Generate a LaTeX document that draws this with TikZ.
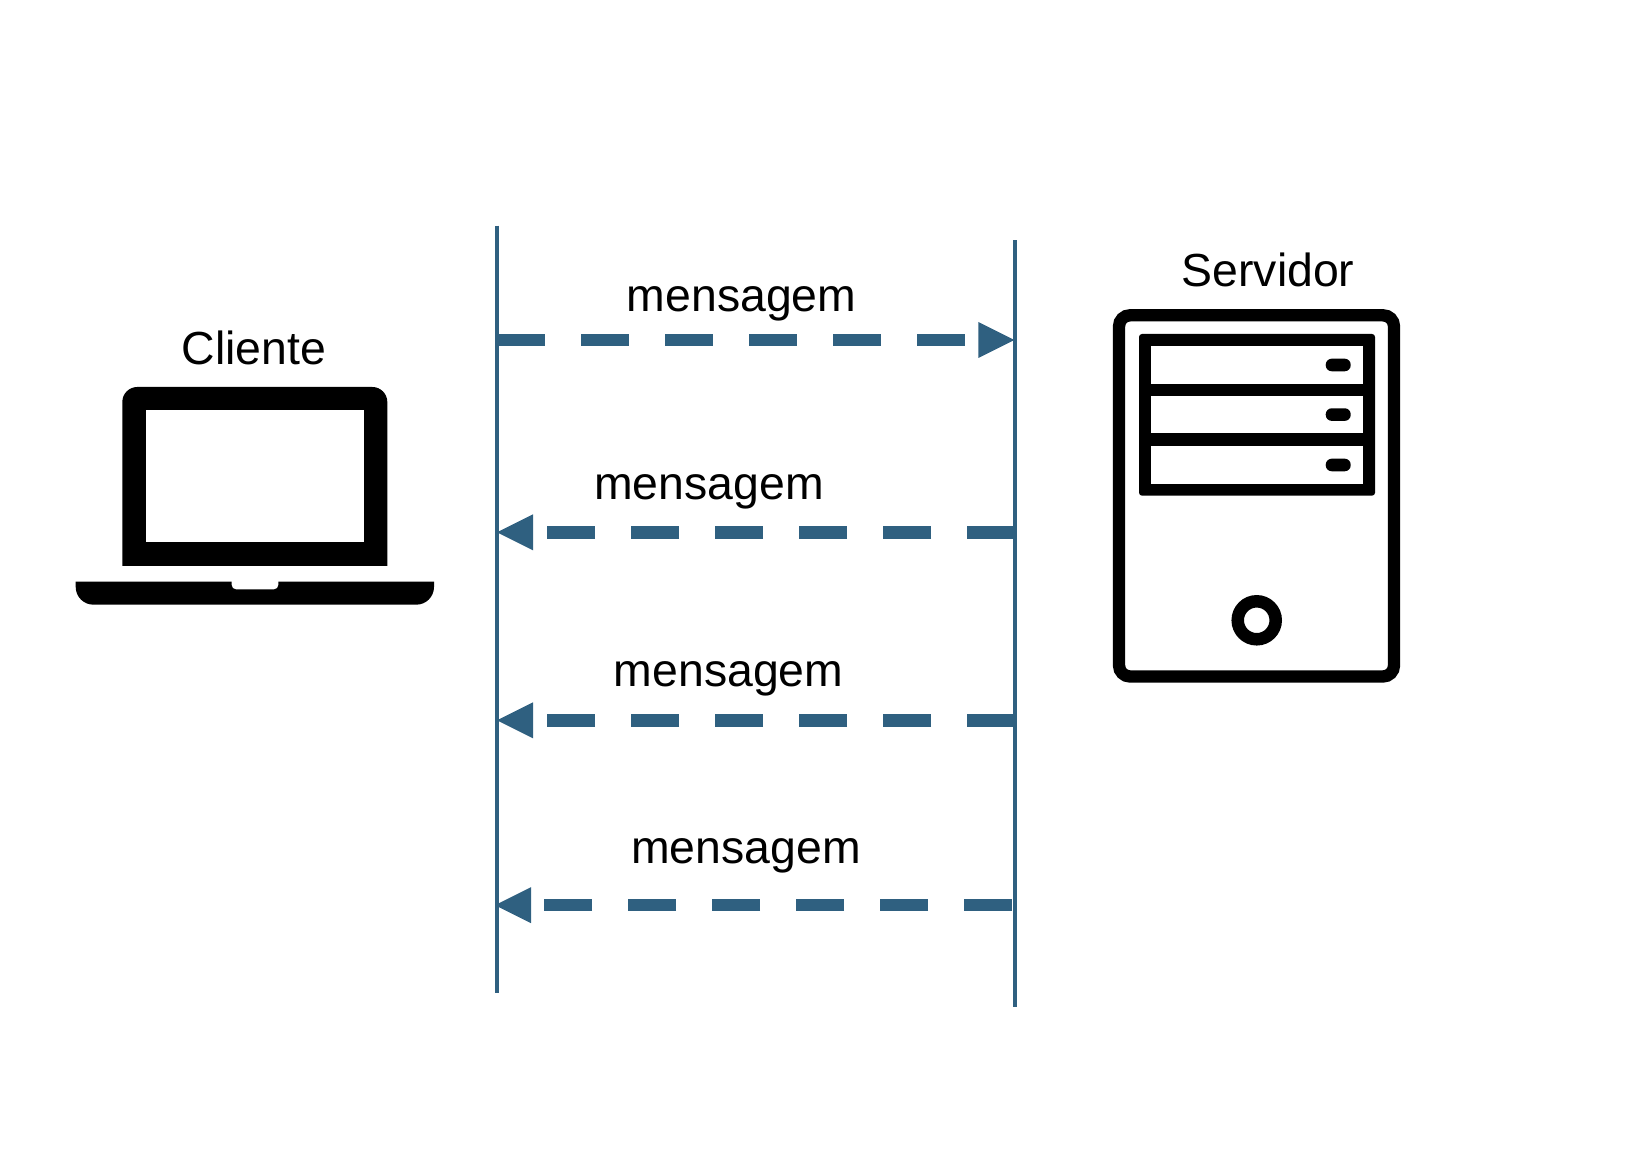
\documentclass[tikz,border=0pt]{standalone}
\usepackage{fontspec}
\setmainfont{Liberation Sans}
\usetikzlibrary{arrows.meta, positioning, calc}
\definecolor{linecolor}{RGB}{47,96,128}

\begin{document}
\begin{tikzpicture}[
    label/.style={anchor=base, inner sep=0pt, font=\fontsize{13.2}{16}\selectfont},
    lifeline/.style={draw=linecolor, line width=0.042cm},
    msgarrow/.style={draw=linecolor, line width=0.125cm, dash pattern=on 0.48cm off 0.36cm,
        -{Triangle[length=0.36cm, width=0.36cm, line width=0pt, fill=linecolor]}},
    icon/.style={fill=black, draw=none},
    hole/.style={fill=white, draw=none}
]
\useasboundingbox (0,0) rectangle (16.38,11.64);

% lifelines
\coordinate (clitop) at (4.97,9.384);
\coordinate (clibot) at (4.97,1.706);
\coordinate (srvtop) at (10.148,9.236);
\coordinate (srvbot) at (10.148,1.570);
\draw[lifeline] (clitop) -- (clibot);
\draw[lifeline] (srvtop) -- (srvbot);

% messages
\coordinate (a1) at (4.98,8.24);
\coordinate (b1) at (10.143,8.24);
\coordinate (a2) at (4.97,6.317);
\coordinate (b2) at (10.13,6.317);
\coordinate (a3) at (4.97,4.437);
\coordinate (b3) at (10.13,4.437);
\coordinate (a4) at (4.95,2.588);
\coordinate (b4) at (10.12,2.588);
\draw[msgarrow, dash phase=0.01cm] (a1) -- (b1);
\draw[msgarrow, dash phase=0.02cm] (b2) -- (a2);
\draw[msgarrow, dash phase=0.02cm] (b3) -- (a3);
\draw[msgarrow] (b4) -- (a4);

\node[label] (msg1) at (7.416,8.525) {mensagem};
\node[label] (msg2) at (7.09,6.645) {mensagem};
\node[label] (msg3) at (7.286,4.775) {mensagem};
\node[label] (msg4) at (7.46,3.005) {mensagem};

% laptop
\node[label] (cliente) at (2.538,7.995) {Cliente};
\fill[icon] (1.223,5.98) -- (1.223,7.62) arc[start angle=180, end angle=90, radius=0.15]
    -- (3.723,7.77) arc[start angle=90, end angle=0, radius=0.15] -- (3.873,5.98) -- cycle;
\fill[hole] (1.46,6.217) rectangle (3.64,7.54);
\fill[icon] (0.757,5.823) -- (0.757,5.77) arc[start angle=180, end angle=270, radius=0.177]
    -- (4.163,5.593) arc[start angle=270, end angle=360, radius=0.177] -- (4.34,5.823)
    -- (2.783,5.823) -- (2.783,5.787) arc[start angle=0, end angle=-90, radius=0.04]
    -- (2.357,5.747) arc[start angle=270, end angle=180, radius=0.04] -- (2.317,5.823) -- cycle;

% server
\node[label] (servidor) at (12.68,8.775) {Servidor};
\draw[line width=0.123cm, rounded corners=0.11cm] (11.19,4.875) rectangle (13.94,8.487);
\fill[icon, rounded corners=0.03cm] (11.39,6.683) rectangle (13.75,8.30);
\foreach \ytop/\ybot in {8.18/7.803, 7.68/7.307, 7.18/6.803}{
    \fill[hole] (11.51,\ybot) rectangle (13.63,\ytop);
    \fill[icon, rounded corners=0.06cm] (13.257,\ybot+0.124) rectangle (13.507,\ybot+0.25);
}
\draw[line width=0.125cm] (12.567,5.437) circle (0.19);
\end{tikzpicture}
\end{document}
